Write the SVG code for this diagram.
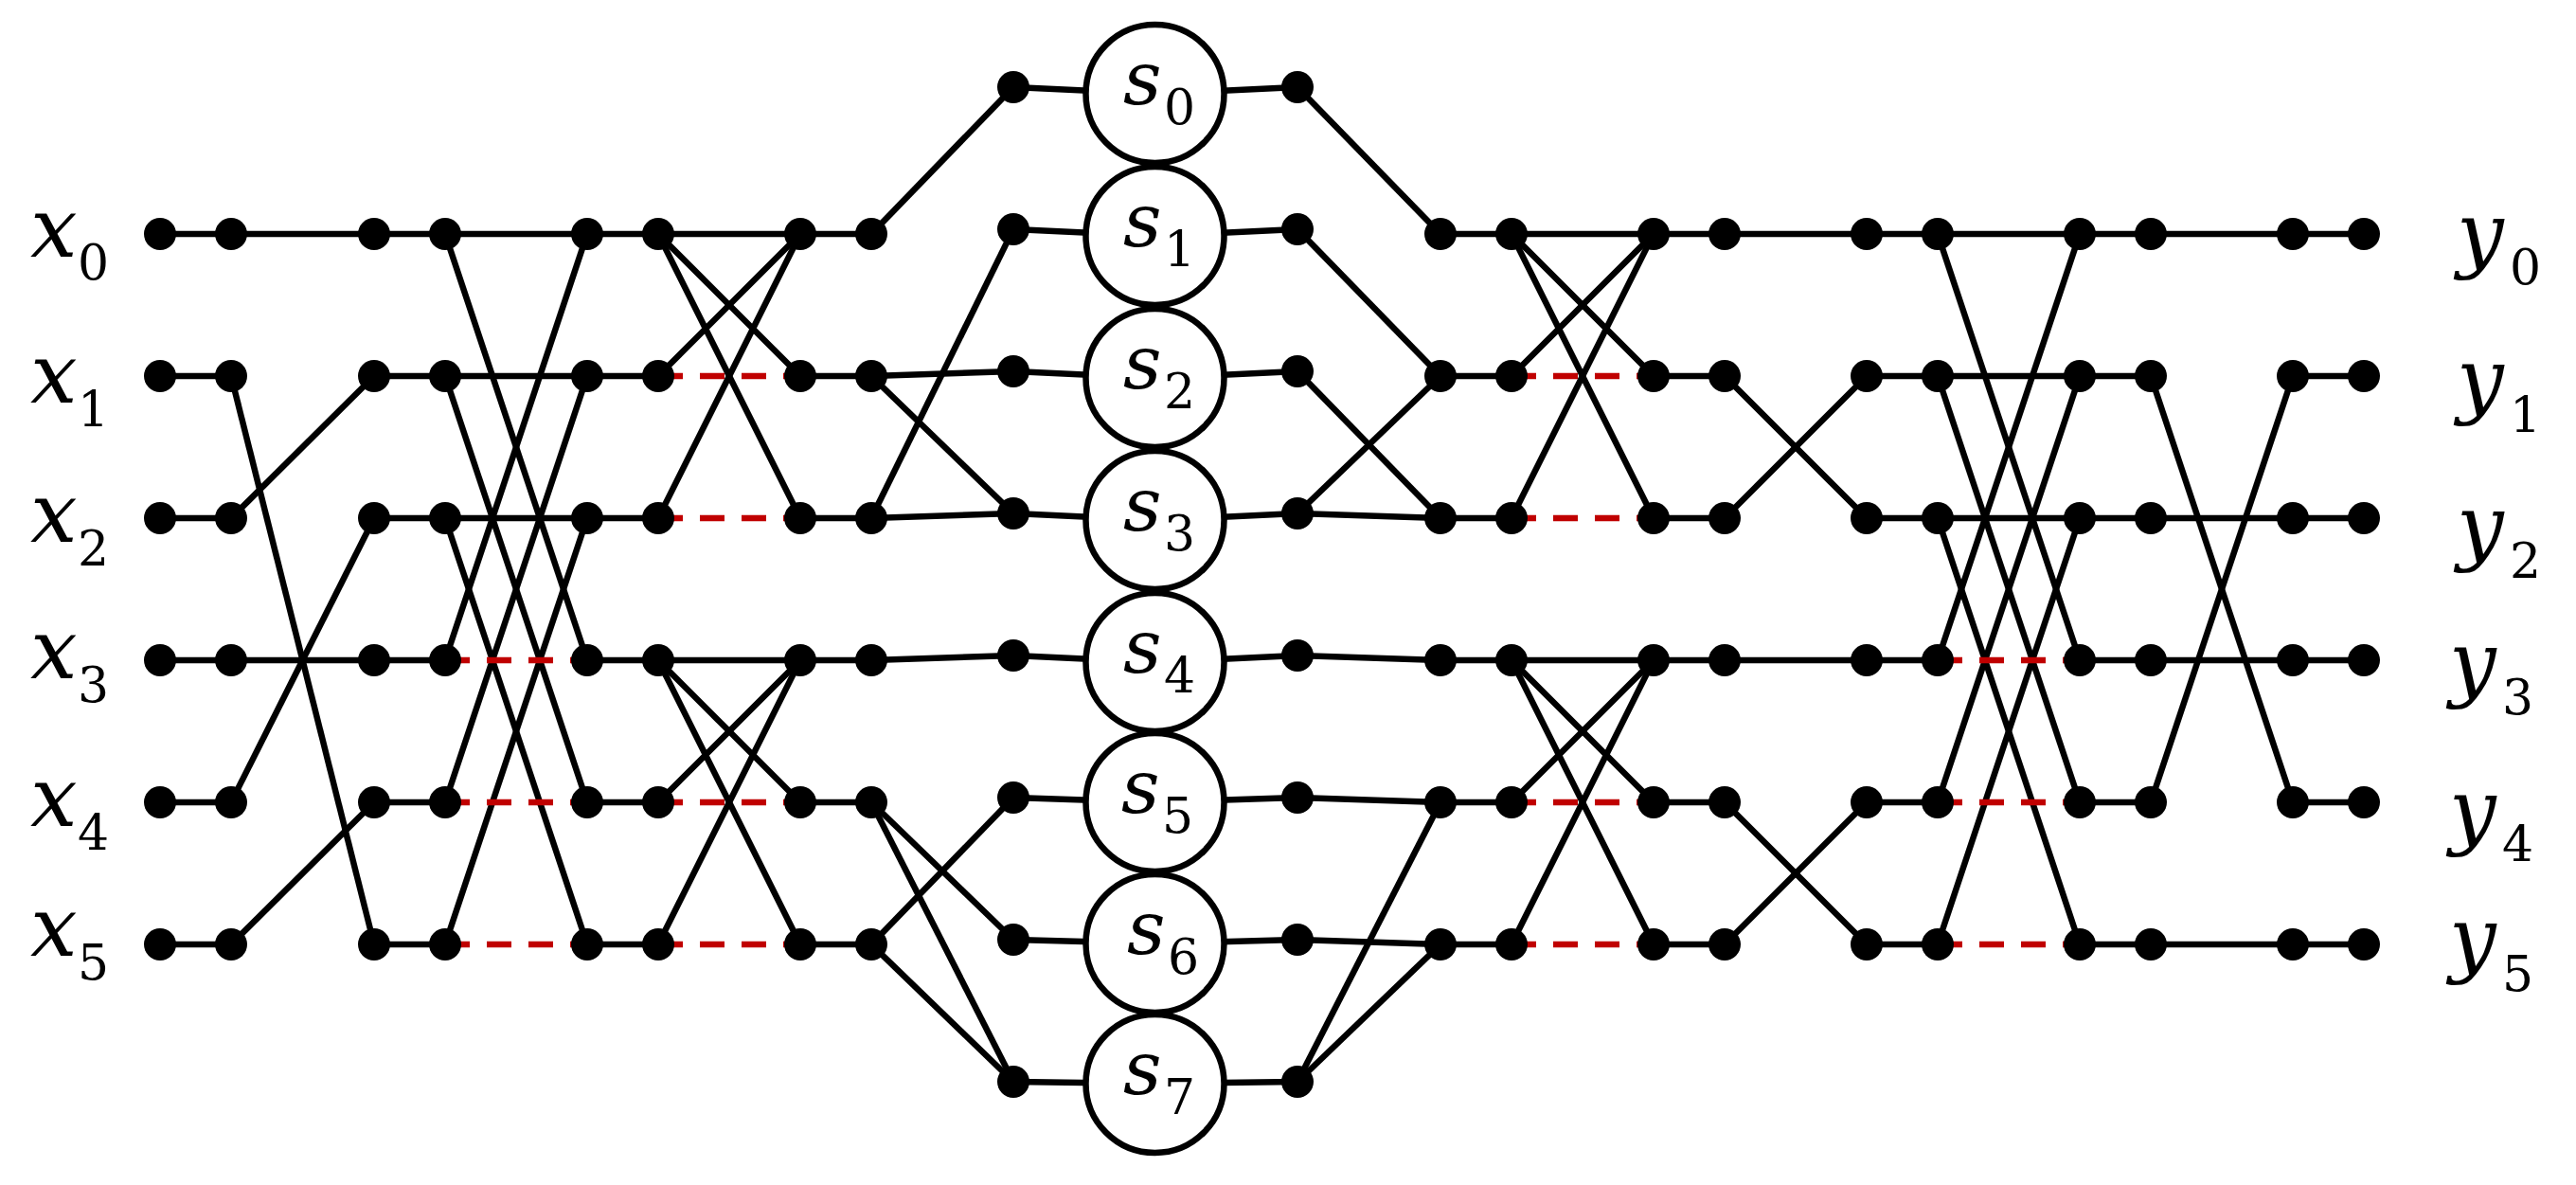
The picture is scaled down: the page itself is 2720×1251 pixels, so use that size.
<svg xmlns="http://www.w3.org/2000/svg" width="2720" height="1251" viewBox="0 0 2720 1251">
<style>
.w{stroke:#000;stroke-width:6.5;fill:none}
.r{stroke:#C00000;stroke-width:6.5;stroke-dasharray:26 18;fill:none}
.c{fill:#fff;stroke:#000;stroke-width:6.5}
.dv{font-style:italic;font-size:88px}
.dsv{font-style:italic;font-size:79px}
.dsub{font-style:normal;font-size:52px}
</style>
<defs><circle id="dot" r="17" fill="#000"/></defs>
<rect width="2720" height="1251" fill="#fff"/>
<g id="connectors">
<g class="w">
<line x1="169" y1="247" x2="244" y2="247"/><line x1="169" y1="397" x2="244" y2="397"/><line x1="169" y1="547" x2="244" y2="547"/><line x1="169" y1="697" x2="244" y2="697"/><line x1="169" y1="847" x2="244" y2="847"/><line x1="169" y1="997" x2="244" y2="997"/>
<line x1="244" y1="247" x2="395" y2="247"/><line x1="244" y1="397" x2="395" y2="997"/><line x1="244" y1="547" x2="395" y2="397"/><line x1="244" y1="697" x2="395" y2="697"/><line x1="244" y1="847" x2="395" y2="547"/><line x1="244" y1="997" x2="395" y2="847"/>
<line x1="395" y1="247" x2="470" y2="247"/><line x1="395" y1="397" x2="470" y2="397"/><line x1="395" y1="547" x2="470" y2="547"/><line x1="395" y1="697" x2="470" y2="697"/><line x1="395" y1="847" x2="470" y2="847"/><line x1="395" y1="997" x2="470" y2="997"/>
<line x1="470" y1="247" x2="620" y2="247"/><line x1="470" y1="397" x2="620" y2="397"/><line x1="470" y1="547" x2="620" y2="547"/>
<line x1="470" y1="247" x2="620" y2="697"/><line x1="470" y1="397" x2="620" y2="847"/><line x1="470" y1="547" x2="620" y2="997"/>
<line x1="470" y1="697" x2="620" y2="247"/><line x1="470" y1="847" x2="620" y2="397"/><line x1="470" y1="997" x2="620" y2="547"/>
<line x1="620" y1="247" x2="695" y2="247"/><line x1="620" y1="397" x2="695" y2="397"/><line x1="620" y1="547" x2="695" y2="547"/><line x1="620" y1="697" x2="695" y2="697"/><line x1="620" y1="847" x2="695" y2="847"/><line x1="620" y1="997" x2="695" y2="997"/>
<line x1="695" y1="247" x2="845" y2="247"/><line x1="695" y1="247" x2="845" y2="397"/><line x1="695" y1="247" x2="845" y2="547"/><line x1="695" y1="397" x2="845" y2="247"/><line x1="695" y1="547" x2="845" y2="247"/>
<line x1="695" y1="697" x2="845" y2="697"/><line x1="695" y1="697" x2="845" y2="847"/><line x1="695" y1="697" x2="845" y2="997"/><line x1="695" y1="847" x2="845" y2="697"/><line x1="695" y1="997" x2="845" y2="697"/>
<line x1="845" y1="247" x2="920" y2="247"/><line x1="845" y1="397" x2="920" y2="397"/><line x1="845" y1="547" x2="920" y2="547"/><line x1="845" y1="697" x2="920" y2="697"/><line x1="845" y1="847" x2="920" y2="847"/><line x1="845" y1="997" x2="920" y2="997"/>
<line x1="920" y1="247" x2="1070" y2="92"/>
<line x1="920" y1="397" x2="1070" y2="392"/><line x1="920" y1="397" x2="1070" y2="542"/>
<line x1="920" y1="547" x2="1070" y2="242"/><line x1="920" y1="547" x2="1070" y2="542"/>
<line x1="920" y1="697" x2="1070" y2="692"/>
<line x1="920" y1="847" x2="1070" y2="992"/><line x1="920" y1="847" x2="1070" y2="1142"/>
<line x1="920" y1="997" x2="1070" y2="842"/><line x1="920" y1="997" x2="1070" y2="1142"/>
<line x1="1070" y1="92" x2="1219" y2="99"/><line x1="1219" y1="99" x2="1370" y2="92"/>
<line x1="1070" y1="242" x2="1219" y2="249"/><line x1="1219" y1="249" x2="1370" y2="242"/>
<line x1="1070" y1="392" x2="1219" y2="399"/><line x1="1219" y1="399" x2="1370" y2="392"/>
<line x1="1070" y1="542" x2="1219" y2="549"/><line x1="1219" y1="549" x2="1370" y2="542"/>
<line x1="1070" y1="692" x2="1219" y2="699"/><line x1="1219" y1="699" x2="1370" y2="692"/>
<line x1="1070" y1="842" x2="1219" y2="847"/><line x1="1219" y1="847" x2="1370" y2="842"/>
<line x1="1070" y1="992" x2="1219" y2="996"/><line x1="1219" y1="996" x2="1370" y2="992"/>
<line x1="1070" y1="1142" x2="1219" y2="1144"/><line x1="1219" y1="1144" x2="1370" y2="1142"/>
<line x1="1370" y1="92" x2="1521" y2="247"/>
<line x1="1370" y1="242" x2="1521" y2="397"/>
<line x1="1370" y1="392" x2="1521" y2="547"/>
<line x1="1370" y1="542" x2="1521" y2="397"/><line x1="1370" y1="542" x2="1521" y2="547"/>
<line x1="1370" y1="692" x2="1521" y2="697"/>
<line x1="1370" y1="842" x2="1521" y2="847"/>
<line x1="1370" y1="992" x2="1521" y2="997"/>
<line x1="1370" y1="1142" x2="1521" y2="847"/><line x1="1370" y1="1142" x2="1521" y2="997"/>
<line x1="1521" y1="247" x2="1596" y2="247"/><line x1="1521" y1="397" x2="1596" y2="397"/><line x1="1521" y1="547" x2="1596" y2="547"/><line x1="1521" y1="697" x2="1596" y2="697"/><line x1="1521" y1="847" x2="1596" y2="847"/><line x1="1521" y1="997" x2="1596" y2="997"/>
<line x1="1596" y1="247" x2="1746" y2="247"/><line x1="1596" y1="247" x2="1746" y2="397"/><line x1="1596" y1="247" x2="1746" y2="547"/><line x1="1596" y1="397" x2="1746" y2="247"/><line x1="1596" y1="547" x2="1746" y2="247"/>
<line x1="1596" y1="697" x2="1746" y2="697"/><line x1="1596" y1="697" x2="1746" y2="847"/><line x1="1596" y1="697" x2="1746" y2="997"/><line x1="1596" y1="847" x2="1746" y2="697"/><line x1="1596" y1="997" x2="1746" y2="697"/>
<line x1="1746" y1="247" x2="1821" y2="247"/><line x1="1746" y1="397" x2="1821" y2="397"/><line x1="1746" y1="547" x2="1821" y2="547"/><line x1="1746" y1="697" x2="1821" y2="697"/><line x1="1746" y1="847" x2="1821" y2="847"/><line x1="1746" y1="997" x2="1821" y2="997"/>
<line x1="1821" y1="247" x2="1971" y2="247"/><line x1="1821" y1="397" x2="1971" y2="547"/><line x1="1821" y1="547" x2="1971" y2="397"/>
<line x1="1821" y1="697" x2="1971" y2="697"/><line x1="1821" y1="847" x2="1971" y2="997"/><line x1="1821" y1="997" x2="1971" y2="847"/>
<line x1="1971" y1="247" x2="2046" y2="247"/><line x1="1971" y1="397" x2="2046" y2="397"/><line x1="1971" y1="547" x2="2046" y2="547"/><line x1="1971" y1="697" x2="2046" y2="697"/><line x1="1971" y1="847" x2="2046" y2="847"/><line x1="1971" y1="997" x2="2046" y2="997"/>
<line x1="2046" y1="247" x2="2196" y2="247"/><line x1="2046" y1="397" x2="2196" y2="397"/><line x1="2046" y1="547" x2="2196" y2="547"/>
<line x1="2046" y1="247" x2="2196" y2="697"/><line x1="2046" y1="397" x2="2196" y2="847"/><line x1="2046" y1="547" x2="2196" y2="997"/>
<line x1="2046" y1="697" x2="2196" y2="247"/><line x1="2046" y1="847" x2="2196" y2="397"/><line x1="2046" y1="997" x2="2196" y2="547"/>
<line x1="2196" y1="247" x2="2271" y2="247"/><line x1="2196" y1="397" x2="2271" y2="397"/><line x1="2196" y1="547" x2="2271" y2="547"/><line x1="2196" y1="697" x2="2271" y2="697"/><line x1="2196" y1="847" x2="2271" y2="847"/><line x1="2196" y1="997" x2="2271" y2="997"/>
<line x1="2271" y1="247" x2="2421" y2="247"/><line x1="2271" y1="397" x2="2421" y2="847"/><line x1="2271" y1="847" x2="2421" y2="397"/><line x1="2271" y1="547" x2="2421" y2="547"/><line x1="2271" y1="697" x2="2421" y2="697"/><line x1="2271" y1="997" x2="2421" y2="997"/>
<line x1="2421" y1="247" x2="2496" y2="247"/><line x1="2421" y1="397" x2="2496" y2="397"/><line x1="2421" y1="547" x2="2496" y2="547"/><line x1="2421" y1="697" x2="2496" y2="697"/><line x1="2421" y1="847" x2="2496" y2="847"/><line x1="2421" y1="997" x2="2496" y2="997"/>
</g>
<g class="r">
<line x1="470" y1="697" x2="620" y2="697"/><line x1="470" y1="847" x2="620" y2="847"/><line x1="470" y1="997" x2="620" y2="997"/>
<line x1="695" y1="397" x2="845" y2="397"/><line x1="695" y1="547" x2="845" y2="547"/><line x1="695" y1="847" x2="845" y2="847"/><line x1="695" y1="997" x2="845" y2="997"/>
<line x1="1596" y1="397" x2="1746" y2="397"/><line x1="1596" y1="547" x2="1746" y2="547"/><line x1="1596" y1="847" x2="1746" y2="847"/><line x1="1596" y1="997" x2="1746" y2="997"/>
<line x1="2046" y1="697" x2="2196" y2="697"/><line x1="2046" y1="847" x2="2196" y2="847"/><line x1="2046" y1="997" x2="2196" y2="997"/>
</g>
</g>
<g id="nodes">
<g id="col169"><use href="#dot" x="169" y="247"/><use href="#dot" x="169" y="397"/><use href="#dot" x="169" y="547"/><use href="#dot" x="169" y="697"/><use href="#dot" x="169" y="847"/><use href="#dot" x="169" y="997"/></g>
<g id="col244"><use href="#dot" x="244" y="247"/><use href="#dot" x="244" y="397"/><use href="#dot" x="244" y="547"/><use href="#dot" x="244" y="697"/><use href="#dot" x="244" y="847"/><use href="#dot" x="244" y="997"/></g>
<g id="col395"><use href="#dot" x="395" y="247"/><use href="#dot" x="395" y="397"/><use href="#dot" x="395" y="547"/><use href="#dot" x="395" y="697"/><use href="#dot" x="395" y="847"/><use href="#dot" x="395" y="997"/></g>
<g id="col470"><use href="#dot" x="470" y="247"/><use href="#dot" x="470" y="397"/><use href="#dot" x="470" y="547"/><use href="#dot" x="470" y="697"/><use href="#dot" x="470" y="847"/><use href="#dot" x="470" y="997"/></g>
<g id="col620"><use href="#dot" x="620" y="247"/><use href="#dot" x="620" y="397"/><use href="#dot" x="620" y="547"/><use href="#dot" x="620" y="697"/><use href="#dot" x="620" y="847"/><use href="#dot" x="620" y="997"/></g>
<g id="col695"><use href="#dot" x="695" y="247"/><use href="#dot" x="695" y="397"/><use href="#dot" x="695" y="547"/><use href="#dot" x="695" y="697"/><use href="#dot" x="695" y="847"/><use href="#dot" x="695" y="997"/></g>
<g id="col845"><use href="#dot" x="845" y="247"/><use href="#dot" x="845" y="397"/><use href="#dot" x="845" y="547"/><use href="#dot" x="845" y="697"/><use href="#dot" x="845" y="847"/><use href="#dot" x="845" y="997"/></g>
<g id="col920"><use href="#dot" x="920" y="247"/><use href="#dot" x="920" y="397"/><use href="#dot" x="920" y="547"/><use href="#dot" x="920" y="697"/><use href="#dot" x="920" y="847"/><use href="#dot" x="920" y="997"/></g>
<g id="col1070"><use href="#dot" x="1070" y="92"/><use href="#dot" x="1070" y="242"/><use href="#dot" x="1070" y="392"/><use href="#dot" x="1070" y="542"/><use href="#dot" x="1070" y="692"/><use href="#dot" x="1070" y="842"/><use href="#dot" x="1070" y="992"/><use href="#dot" x="1070" y="1142"/></g>
<g id="col1370"><use href="#dot" x="1370" y="92"/><use href="#dot" x="1370" y="242"/><use href="#dot" x="1370" y="392"/><use href="#dot" x="1370" y="542"/><use href="#dot" x="1370" y="692"/><use href="#dot" x="1370" y="842"/><use href="#dot" x="1370" y="992"/><use href="#dot" x="1370" y="1142"/></g>
<g id="col1521"><use href="#dot" x="1521" y="247"/><use href="#dot" x="1521" y="397"/><use href="#dot" x="1521" y="547"/><use href="#dot" x="1521" y="697"/><use href="#dot" x="1521" y="847"/><use href="#dot" x="1521" y="997"/></g>
<g id="col1596"><use href="#dot" x="1596" y="247"/><use href="#dot" x="1596" y="397"/><use href="#dot" x="1596" y="547"/><use href="#dot" x="1596" y="697"/><use href="#dot" x="1596" y="847"/><use href="#dot" x="1596" y="997"/></g>
<g id="col1746"><use href="#dot" x="1746" y="247"/><use href="#dot" x="1746" y="397"/><use href="#dot" x="1746" y="547"/><use href="#dot" x="1746" y="697"/><use href="#dot" x="1746" y="847"/><use href="#dot" x="1746" y="997"/></g>
<g id="col1821"><use href="#dot" x="1821" y="247"/><use href="#dot" x="1821" y="397"/><use href="#dot" x="1821" y="547"/><use href="#dot" x="1821" y="697"/><use href="#dot" x="1821" y="847"/><use href="#dot" x="1821" y="997"/></g>
<g id="col1971"><use href="#dot" x="1971" y="247"/><use href="#dot" x="1971" y="397"/><use href="#dot" x="1971" y="547"/><use href="#dot" x="1971" y="697"/><use href="#dot" x="1971" y="847"/><use href="#dot" x="1971" y="997"/></g>
<g id="col2046"><use href="#dot" x="2046" y="247"/><use href="#dot" x="2046" y="397"/><use href="#dot" x="2046" y="547"/><use href="#dot" x="2046" y="697"/><use href="#dot" x="2046" y="847"/><use href="#dot" x="2046" y="997"/></g>
<g id="col2196"><use href="#dot" x="2196" y="247"/><use href="#dot" x="2196" y="397"/><use href="#dot" x="2196" y="547"/><use href="#dot" x="2196" y="697"/><use href="#dot" x="2196" y="847"/><use href="#dot" x="2196" y="997"/></g>
<g id="col2271"><use href="#dot" x="2271" y="247"/><use href="#dot" x="2271" y="397"/><use href="#dot" x="2271" y="547"/><use href="#dot" x="2271" y="697"/><use href="#dot" x="2271" y="847"/><use href="#dot" x="2271" y="997"/></g>
<g id="col2421"><use href="#dot" x="2421" y="247"/><use href="#dot" x="2421" y="397"/><use href="#dot" x="2421" y="547"/><use href="#dot" x="2421" y="697"/><use href="#dot" x="2421" y="847"/><use href="#dot" x="2421" y="997"/></g>
<g id="col2496"><use href="#dot" x="2496" y="247"/><use href="#dot" x="2496" y="397"/><use href="#dot" x="2496" y="547"/><use href="#dot" x="2496" y="697"/><use href="#dot" x="2496" y="847"/><use href="#dot" x="2496" y="997"/></g>
<g id="s-nodes" font-family="DejaVu Serif, serif">
<g id="s0"><circle class="c" cx="1219.5" cy="99" r="73"/><text class="dsv" x="1186" y="110">s</text><text class="dsub" x="1229" y="131">0</text></g>
<g id="s1"><circle class="c" cx="1219.5" cy="249" r="73"/><text class="dsv" x="1186" y="260">s</text><text class="dsub" x="1229" y="281">1</text></g>
<g id="s2"><circle class="c" cx="1219.5" cy="399" r="73"/><text class="dsv" x="1186" y="410">s</text><text class="dsub" x="1229" y="431">2</text></g>
<g id="s3"><circle class="c" cx="1219.5" cy="549" r="73"/><text class="dsv" x="1186" y="560">s</text><text class="dsub" x="1229" y="581">3</text></g>
<g id="s4"><circle class="c" cx="1219.5" cy="699" r="73"/><text class="dsv" x="1186" y="710">s</text><text class="dsub" x="1229" y="731">4</text></g>
<g id="s5"><circle class="c" cx="1219.5" cy="847" r="73"/><text class="dsv" x="1184" y="858">s</text><text class="dsub" x="1227" y="879">5</text></g>
<g id="s6"><circle class="c" cx="1219.5" cy="996" r="73"/><text class="dsv" x="1190" y="1007">s</text><text class="dsub" x="1233" y="1028">6</text></g>
<g id="s7"><circle class="c" cx="1219.5" cy="1144" r="73"/><text class="dsv" x="1186" y="1155">s</text><text class="dsub" x="1229" y="1176">7</text></g>
</g>
</g>
<g id="labels" font-family="DejaVu Serif, serif">
<g id="lx0"><text class="dv" x="32" y="271">x</text><text class="dsub" x="82" y="295">0</text></g>
<g id="lx1"><text class="dv" x="32" y="425">x</text><text class="dsub" x="82" y="450">1</text></g>
<g id="lx2"><text class="dv" x="32" y="572">x</text><text class="dsub" x="82" y="597">2</text></g>
<g id="lx3"><text class="dv" x="32" y="716">x</text><text class="dsub" x="82" y="741">3</text></g>
<g id="lx4"><text class="dv" x="32" y="872">x</text><text class="dsub" x="82" y="897">4</text></g>
<g id="lx5"><text class="dv" x="32" y="1009">x</text><text class="dsub" x="82" y="1034">5</text></g>
<g id="ly0"><text class="dv" x="2594" y="276">y</text><text class="dsub" x="2650" y="300">0</text></g>
<g id="ly1"><text class="dv" x="2594" y="430">y</text><text class="dsub" x="2650" y="456">1</text></g>
<g id="ly2"><text class="dv" x="2594" y="585">y</text><text class="dsub" x="2650" y="610">2</text></g>
<g id="ly3"><text class="dv" x="2586" y="729">y</text><text class="dsub" x="2642" y="754">3</text></g>
<g id="ly4"><text class="dv" x="2586" y="885">y</text><text class="dsub" x="2642" y="909">4</text></g>
<g id="ly5"><text class="dv" x="2586" y="1020">y</text><text class="dsub" x="2642" y="1046">5</text></g>
</g>
</svg>
